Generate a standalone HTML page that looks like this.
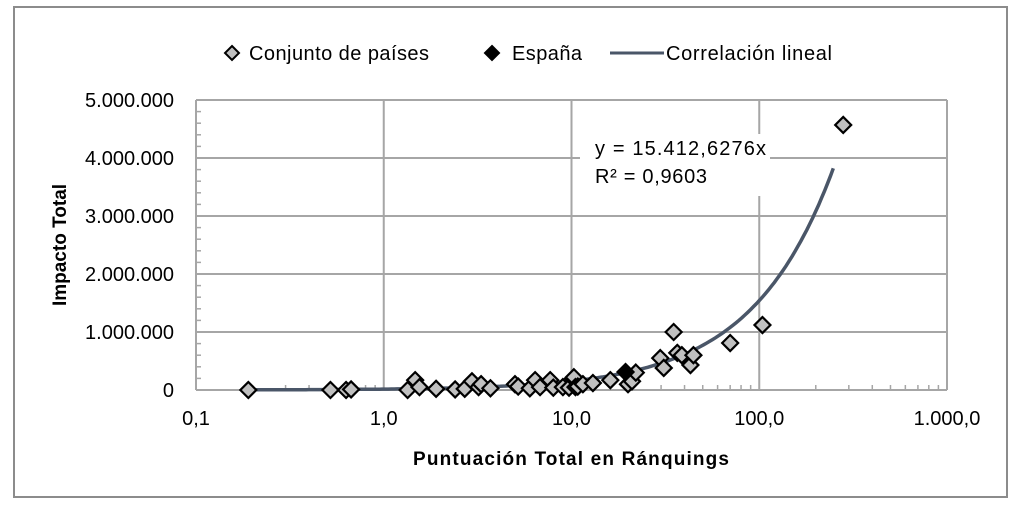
<!DOCTYPE html>
<html><head><meta charset="utf-8"><style>
html,body{margin:0;padding:0;background:#fff;}
svg{display:block;font-family:"Liberation Sans",sans-serif;}
</style></head><body>
<svg id="chart" width="1024" height="515" viewBox="0 0 1024 515">
<rect x="14" y="7" width="993" height="490" fill="#fff" stroke="#8c8c8c" stroke-width="2"/>
<g id="grid"></g>
<g id="axes"></g>
<g id="trend"></g>
<g id="pts"></g>
<g>
  <g>
    <path d="M232 46 L239 53 L232 60 L225 53 Z" fill="#c0c0c0" stroke="#000" stroke-width="2"/>
    <text x="249" y="60" font-size="20" fill="#000" textLength="180">Conjunto de países</text>
  </g>
  <g>
    <path d="M492 46 L499 53 L492 60 L485 53 Z" fill="#000" stroke="#000" stroke-width="2"/>
    <text x="512" y="60" font-size="20" fill="#000" textLength="70">España</text>
  </g>
  <g>
    <line x1="610" y1="53" x2="664" y2="53" stroke="#4a5668" stroke-width="3"/>
    <text x="666" y="60" font-size="20" fill="#000" textLength="166">Correlación lineal</text>
  </g>
</g>
<rect x="580" y="134" width="190" height="62" fill="#fff"/>
<text x="595" y="155" font-size="20" textLength="171">y = 15.412,6276x</text>
<text x="595" y="183" font-size="20" textLength="112">R² = 0,9603</text>
<text transform="translate(66,245) rotate(-90)" text-anchor="middle" font-size="19" font-weight="bold">Impacto Total</text>
<text x="571" y="465" text-anchor="middle" font-size="19" font-weight="bold" textLength="316">Puntuación Total en Ránquings</text>
</svg>
<script>
const xTickVals=[0.1,1,10,100,1000];
const xTickLabels=["0,1","1,0","10,0","100,0","1.000,0"];
const yTickVals=[0,1000000,2000000,3000000,4000000,5000000];
const yTickLabels=["0","1.000.000","2.000.000","3.000.000","4.000.000","5.000.000"];
const paisesX=[0.19,0.52,0.63,0.67,1.34,1.47,1.55,1.9,2.4,2.7,2.95,3.2,3.3,3.7,5.0,5.2,6.0,6.4,6.8,7.7,8.0,9.0,9.7,10.2,10.3,10.5,10.8,11.5,13,16.1,20,21,22,29.7,31,35,36.6,38.7,43,44.6,70,104,280];
const paisesY=[0,0,0,10000,0,170000,50000,20000,10000,20000,150000,50000,100000,30000,100000,60000,30000,170000,50000,170000,40000,50000,40000,200000,220000,50000,60000,100000,120000,170000,100000,150000,300000,550000,380000,1000000,640000,600000,430000,600000,810000,1120000,4570000];
const espanaX=[19.4];
const espanaY=[310000];
const slope=15412.6276;
const trendRange=[0.18,248];
const L=196,R=947,T=100,B=390;
const ns="http://www.w3.org/2000/svg";
function sx(v){return L+(Math.log10(v)+1)/4*(R-L);}
function sy(v){return B-v/5000000*(B-T);}
function mk(tag,attrs,parent){const e=document.createElementNS(ns,tag);for(const k in attrs)e.setAttribute(k,attrs[k]);parent.appendChild(e);return e;}
const grid=document.getElementById('grid'),axes=document.getElementById('axes');
yTickVals.forEach((v,i)=>{
  const g=mk('line',{x1:L,x2:R,y1:sy(v),y2:sy(v),stroke:'#a6a6a6','stroke-width':2},grid);
  
  
  const t=mk('text',{x:174,y:sy(v)+7,'text-anchor':'end','font-size':20},axes);
  t.textContent=yTickLabels[i];
  
  
  if(i<yTickVals.length-1){for(let k=1;k<5;k++){const yy=sy(v+k*200000);const m=mk('line',{x1:L,x2:L+5,y1:yy,y2:yy,stroke:'#a6a6a6','stroke-width':1.5},axes);
  
  }}
});
xTickVals.forEach((v,i)=>{
  const g=mk('line',{x1:sx(v),x2:sx(v),y1:T,y2:B,stroke:'#a6a6a6','stroke-width':2},grid);
  
  
  const t=mk('text',{x:sx(v),y:425,'text-anchor':'middle','font-size':20},axes);
  t.textContent=xTickLabels[i];
  
  
  if(i<xTickVals.length-1){for(let k=2;k<10;k++){const xx=sx(v*k);const m=mk('line',{x1:xx,x2:xx,y1:B,y2:B-5,stroke:'#a6a6a6','stroke-width':1.5},axes);
  
  }}
});
let d='';const n=200;
for(let i=0;i<=n;i++){const lx=Math.log10(trendRange[0])+(Math.log10(trendRange[1])-Math.log10(trendRange[0]))*i/n;const x=Math.pow(10,lx);d+=(i?'L':'M')+sx(x).toFixed(1)+' '+sy(slope*x).toFixed(1);}
const tl=mk('path',{d:d,fill:'none',stroke:'#4a5668','stroke-width':3.5},document.getElementById('trend'));


const pts=document.getElementById('pts');
function diamond(x,y,fill,name){const cx=sx(x),cy=sy(y),r=8;const p=mk('path',{d:`M${cx} ${cy-r}L${cx+r} ${cy}L${cx} ${cy+r}L${cx-r} ${cy}Z`,fill:fill,stroke:'#000','stroke-width':2.2},pts);

}
paisesX.forEach((x,i)=>diamond(x,paisesY[i],'#c0c0c0','point-pais'));
espanaX.forEach((x,i)=>diamond(x,espanaY[i],'#000','point-espana'));
</script>
</body></html>
